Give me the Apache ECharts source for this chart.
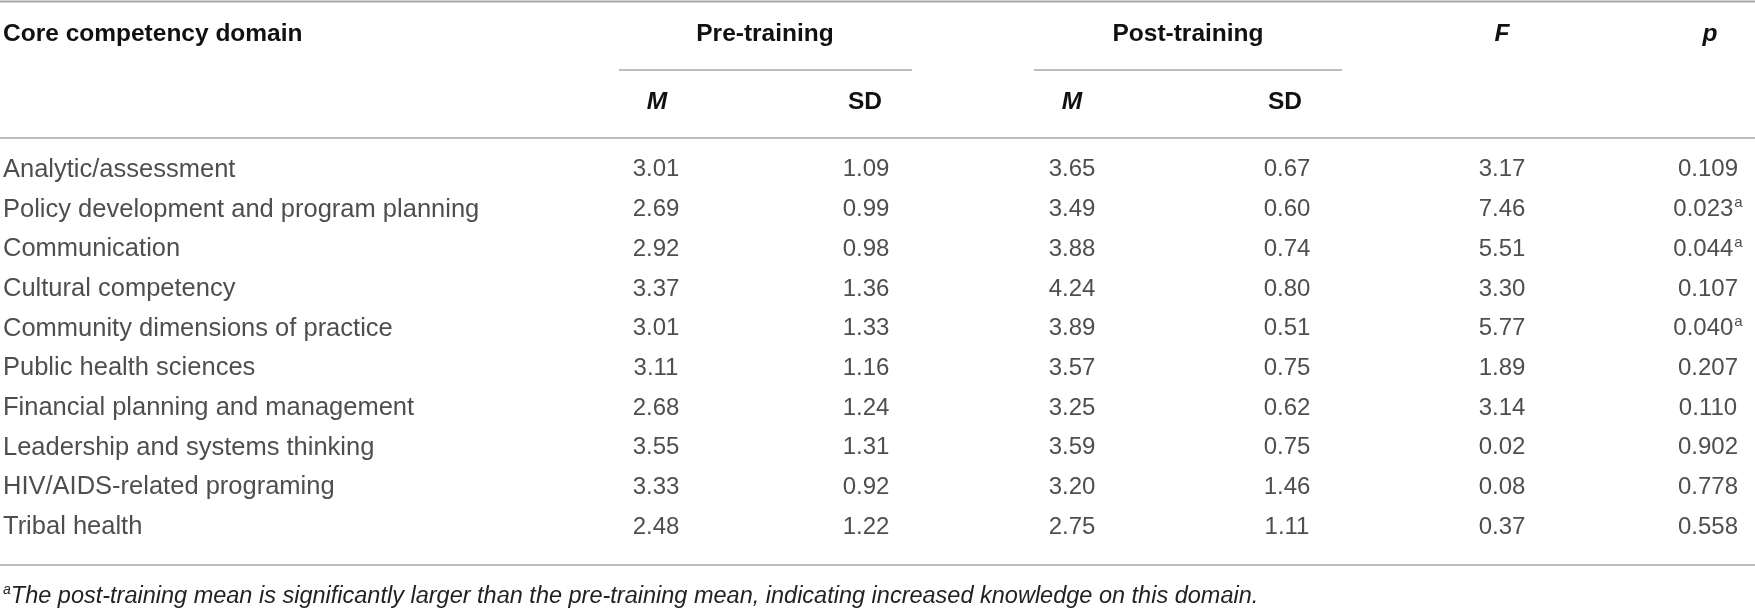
<!DOCTYPE html>
<html>
<head>
<meta charset="utf-8">
<title>Core competency domains</title>
<script src="https://cdn.jsdelivr.net/npm/echarts@6/dist/echarts.min.js"></script>
<style>
  html, body { margin: 0; padding: 0; background: #fff; }
  #main { width: 1755px; height: 612px; }
</style>
</head>
<body>
<div id="main"></div>
<script>
// table data
var domains = [
  'Analytic/assessment',
  'Policy development and program planning',
  'Communication',
  'Cultural competency',
  'Community dimensions of practice',
  'Public health sciences',
  'Financial planning and management',
  'Leadership and systems thinking',
  'HIV/AIDS-related programing',
  'Tribal health'
];
var preM = [3.01, 2.69, 2.92, 3.37, 3.01, 3.11, 2.68, 3.55, 3.33, 2.48];
var preSD = [1.09, 0.99, 0.98, 1.36, 1.33, 1.16, 1.24, 1.31, 0.92, 1.22];
var postM = [3.65, 3.49, 3.88, 4.24, 3.89, 3.57, 3.25, 3.59, 3.20, 2.75];
var postSD = [0.67, 0.60, 0.74, 0.80, 0.51, 0.75, 0.62, 0.75, 1.46, 1.11];
var fVals = [3.17, 7.46, 5.51, 3.30, 5.77, 1.89, 3.14, 0.02, 0.08, 0.37];
var pVals = [0.109, 0.023, 0.044, 0.107, 0.040, 0.207, 0.110, 0.902, 0.778, 0.558];
var pSig = [false, true, true, false, true, false, false, false, false, false];
var footnote = 'The post-training mean is significantly larger than the pre-training mean, indicating increased knowledge on this domain.';

// layout (x anchors of each column, in px)
var colX = { domain: 3, preM: 656, preSD: 866, postM: 1072, postSD: 1287, F: 1502, p: 1708 };
var FONT = '"Liberation Sans", Arial, sans-serif';
var NUM = 24;     // digits
var TXT = 25.5;   // row labels
var HEAD = 24.5;
var lineCol = '#a8a8a8';

var myChart = echarts.init(document.getElementById('main'));

function numSeries(vals, x, digits, sig) {
  return {
    type: 'scatter',
    symbolSize: 0,
    silent: true,
    data: vals.map(function (v, i) { return [x, domains[i], v, sig ? sig[i] : false]; }),
    label: {
      show: true,
      position: 'inside',
      color: '#222',
      fontFamily: FONT,
      fontSize: NUM,
      formatter: function (p) {
        var s = p.value[2].toFixed(digits);
        return p.value[3] ? '{n|' + s + '}{s|a}' : '{n|' + s + '}';
      },
      rich: {
        n: { fontFamily: FONT, fontSize: NUM, color: '#222', lineHeight: 28 },
        s: { fontFamily: FONT, fontSize: 15, color: '#222', lineHeight: 28, verticalAlign: 'top', padding: [0, 0, 0, 1] }
      }
    }
  };
}

function hText(txt, x, y, align, italic) {
  return {
    type: 'text', x: x, y: y, silent: true,
    style: {
      text: txt, fill: '#111', font: (italic ? 'italic ' : '') + 'bold ' + HEAD + 'px ' + FONT,
      align: align, verticalAlign: 'middle'
    }
  };
}

function hLine(x1, x2, y, w) {
  return { type: 'line', silent: true, shape: { x1: x1, y1: y, x2: x2, y2: y }, style: { stroke: lineCol, lineWidth: w || 1.5 } };
}

var option = {
  animation: false,
  backgroundColor: '#fff',
  grid: { left: 0, right: 0, top: 150, height: 397 },
  xAxis: { type: 'value', min: 0, max: 1755, show: false },
  yAxis: { type: 'category', data: domains, inverse: true, show: false },
  series: [
    {
      type: 'scatter',
      symbolSize: 0,
      silent: true,
      data: domains.map(function (d) { return [colX.domain, d]; }),
      label: {
        show: true, position: 'right', distance: 0,
        color: '#222', fontFamily: FONT, fontSize: TXT,
        formatter: function (p) { return p.value[1]; }
      }
    },
    numSeries(preM, colX.preM, 2),
    numSeries(preSD, colX.preSD, 2),
    numSeries(postM, colX.postM, 2),
    numSeries(postSD, colX.postSD, 2),
    numSeries(fVals, colX.F, 2),
    numSeries(pVals, colX.p, 3, pSig)
  ],
  graphic: [
    hLine(0, 1755, 1.5, 2),
    hText('Core competency domain', colX.domain, 34, 'left'),
    hText('Pre-training', 765, 34, 'center'),
    hText('Post-training', 1188, 34, 'center'),
    hText('F', colX.F, 34, 'center', true),
    hText('p', colX.p + 2, 34, 'center', true),
    hLine(619, 912, 70),
    hLine(1034, 1342, 70),
    hText('M', colX.preM + 1, 102, 'center', true),
    hText('SD', 865, 102, 'center'),
    hText('M', colX.postM, 102, 'center', true),
    hText('SD', colX.postSD - 2, 102, 'center'),
    hLine(0, 1755, 138),
    hLine(0, 1755, 565),
    {
      type: 'text', x: 3, y: 596, silent: true,
      style: {
        text: '{s|a}{t|' + footnote + '}',
        verticalAlign: 'middle',
        rich: {
          s: { font: 'italic 14px ' + FONT, fill: '#222', lineHeight: 26, verticalAlign: 'top' },
          t: { font: 'italic 23.5px ' + FONT, fill: '#222', lineHeight: 26 }
        }
      }
    }
  ]
};
myChart.setOption(option);
</script>
</body>
</html>
